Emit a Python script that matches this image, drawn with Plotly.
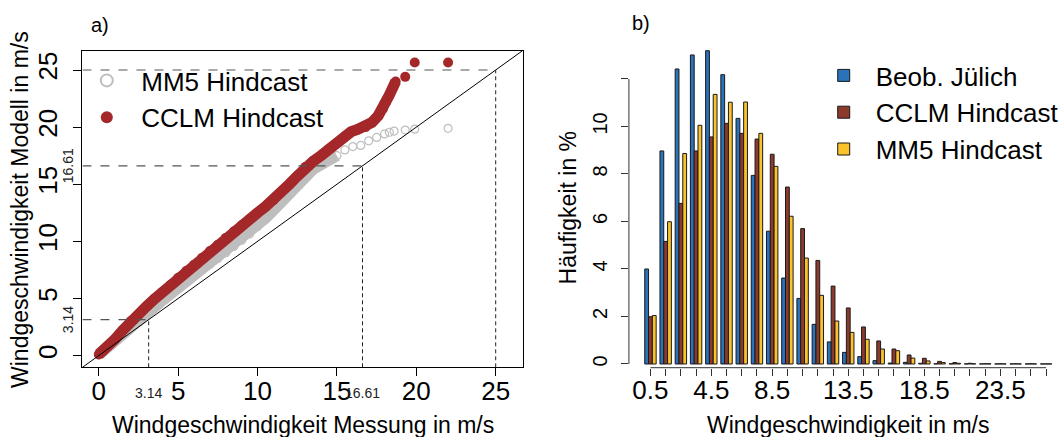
import plotly.graph_objects as go

# ---------------- data: panel a) quantile-quantile ----------------
# observed quantiles (x) and model quantiles (y), read from the picture
mm5_obs = [0.0, 0.5, 1.0, 1.5, 2.0, 2.5, 3.0, 3.5, 4.0, 4.5, 5.0, 5.5, 6.0, 6.5, 7.0, 7.5,
           8.0, 8.5, 9.0, 9.5, 10.0, 10.5, 11.0, 11.5, 12.0, 12.5, 13.0, 13.5, 14.0, 14.5,
           15.0, 15.5, 16.0, 16.5, 17.0, 17.5, 18.0, 18.3, 18.6, 19.3, 19.9, 22.0]
mm5_mod = [0.05, 0.6, 1.2, 1.8, 2.4, 3.0, 3.6, 4.2, 4.8, 5.35, 5.9, 6.45, 7.0, 7.5, 8.0, 8.5,
           9.0, 9.55, 10.1, 10.65, 11.3, 12.0, 12.7, 13.45, 14.25, 15.0, 15.7, 16.3, 16.7, 17.1,
           17.5, 18.0, 18.3, 18.4, 18.8, 19.1, 19.4, 19.55, 19.65, 19.74, 19.82, 19.89]
mm5_dense = 31  # number of leading points forming the solid band

cclm_obs = [0.0, 0.3, 0.6, 1.0, 1.5, 2.0, 2.5, 3.0, 3.5, 4.0, 4.5, 5.0, 5.5, 6.0, 6.5, 7.0,
            7.5, 8.0, 8.5, 9.0, 9.5, 10.0, 10.5, 11.0, 11.5, 12.0, 12.5, 13.0, 13.5, 14.0,
            14.5, 15.0, 15.5, 15.9, 16.3, 16.8, 17.2, 17.6, 17.9, 18.1, 18.3, 18.5, 18.7,
            19.3, 19.9, 22.0]
cclm_mod = [0.1, 0.45, 0.85, 1.4, 2.2, 3.0, 3.6, 4.3, 4.95, 5.55, 6.15, 6.8, 7.4, 7.95, 8.55,
            9.15, 9.7, 10.3, 10.85, 11.4, 11.95, 12.5, 13.05, 13.6, 14.3, 15.0, 15.7, 16.5,
            17.0, 17.5, 18.1, 18.6, 19.2, 19.6, 19.8, 20.0, 20.4, 21.0, 21.6, 22.2, 22.8,
            23.4, 24.0, 24.4, 25.66, 25.66]
cclm_dense = 43

marks = [3.14, 16.61, 25]          # dashed reference quantiles
mark_labels = ["3.14", "16.61"]
qq_ticks = [0, 5, 10, 15, 20, 25]
qq_lim = [-1.03, 26.69]

# ---------------- data: panel b) histogram ----------------
bins = [0.5, 1.5, 2.5, 3.5, 4.5, 5.5, 6.5, 7.5, 8.5, 9.5, 10.5, 11.5, 12.5, 13.5,
        14.5, 15.5, 16.5, 17.5, 18.5, 19.5, 20.5, 21.5, 22.5, 23.5, 24.5, 25.5, 26.5]
bin_labels = ["0.5", "4.5", "8.5", "13.5", "18.5", "23.5"]
beob = [4.00, 8.97, 12.42, 13.01, 13.19, 12.18, 10.34, 7.94, 5.59, 3.62, 2.76, 1.67, 0.93,
        0.49, 0.31, 0.14, 0.04, 0.07, 0.03, 0.01, 0.01, 0.005, 0.005, 0.005, 0.005, 0.005, 0.005]
cclm = [1.99, 5.16, 6.76, 8.97, 9.56, 10.13, 9.71, 9.47, 8.83, 7.45, 5.70, 4.36, 3.28,
        2.36, 1.56, 0.97, 0.63, 0.38, 0.24, 0.11, 0.06, 0.03, 0.01, 0.01, 0.01, 0.01, 0.005]
mm5 = [2.04, 5.99, 8.86, 10.05, 11.35, 11.02, 11.03, 9.71, 8.32, 6.22, 4.46, 2.89, 1.81,
       1.33, 1.04, 0.63, 0.56, 0.25, 0.13, 0.06, 0.03, 0.01, 0.01, 0.005, 0.005, 0.005, 0.005]
freq_ticks = [0, 2, 4, 6, 8, 10, 12]

FONT = "Liberation Sans, Arial, sans-serif"
GRAY = "#BEBEBE"
RED = "#A4282A"
W, H = 1064, 437

fig = go.Figure()

# ---- panel a ----
fig.add_trace(go.Scatter(x=mm5_obs[:mm5_dense], y=mm5_mod[:mm5_dense], mode="lines",
                         line=dict(color=GRAY, width=11), showlegend=False, hoverinfo="skip",
                         xaxis="x", yaxis="y"))
fig.add_trace(go.Scatter(x=mm5_obs, y=mm5_mod, mode="markers", name="MM5 Hindcast",
                         marker=dict(symbol="circle-open", size=8, color=GRAY,
                                     line=dict(width=1.2, color=GRAY)),
                         legend="legend", xaxis="x", yaxis="y"))
fig.add_trace(go.Scatter(x=cclm_obs[:cclm_dense], y=cclm_mod[:cclm_dense], mode="lines",
                         line=dict(color=RED, width=11), showlegend=False, hoverinfo="skip",
                         xaxis="x", yaxis="y"))
fig.add_trace(go.Scatter(x=cclm_obs, y=cclm_mod, mode="markers", name="CCLM Hindcast",
                         marker=dict(symbol="circle", size=10, color=RED),
                         legend="legend", xaxis="x", yaxis="y"))
# 1:1 line
fig.add_trace(go.Scatter(x=qq_lim, y=qq_lim, mode="lines", line=dict(color="black", width=1),
                         showlegend=False, hoverinfo="skip", xaxis="x", yaxis="y"))
# dashed quantile guides
for q in marks:
    fig.add_trace(go.Scatter(x=[qq_lim[0], q], y=[q, q], mode="lines",
                             line=dict(color="#555555", width=1.2, dash="dash"),
                             showlegend=False, hoverinfo="skip", xaxis="x", yaxis="y"))
    fig.add_trace(go.Scatter(x=[q, q], y=[qq_lim[0], q], mode="lines",
                             line=dict(color="#222222", width=1, dash="4px,3px"),
                             showlegend=False, hoverinfo="skip", xaxis="x", yaxis="y"))

# ---- panel b ----
for name, vals, col in [("Beob. Jülich", beob, "#2A72BA"),
                        ("CCLM Hindcast", cclm, "#8C3A2C"),
                        ("MM5 Hindcast", mm5, "#FBC32B")]:
    fig.add_trace(go.Bar(x=bins, y=vals, name=name, marker=dict(color=col,
                         line=dict(color="#1a1a1a", width=1)),
                         legend="legend2", xaxis="x2", yaxis="y2"))

def px_x(p):
    return p / W

def px_y(p):
    return (H - p) / H

axis_font = dict(family=FONT, size=26, color="black")

fig.update_layout(
    width=W, height=H,
    margin=dict(l=0, r=0, t=0, b=0),
    paper_bgcolor="white", plot_bgcolor="white",
    font=dict(family=FONT, color="black"),
    barmode="group", bargap=0.25, bargroupgap=0,
    xaxis=dict(domain=[px_x(82.7), px_x(524)], range=qq_lim, tickvals=qq_ticks,
               ticks="outside", ticklen=8, tickcolor="black", showline=True, mirror=True,
               linecolor="black", linewidth=1, showgrid=False, zeroline=False,
               tickfont=axis_font, ticklabelstandoff=-8, anchor="y"),
    yaxis=dict(domain=[px_y(367.3), px_y(50.7)], range=qq_lim, tickvals=qq_ticks,
               ticks="outside", ticklen=8, tickcolor="black", showline=True, mirror=True,
               linecolor="black", linewidth=1, showgrid=False, zeroline=False,
               tickfont=axis_font, tickangle=-90, ticklabelstandoff=6, anchor="x"),
    xaxis2=dict(domain=[px_x(630.7), px_x(1062)], range=[-0.915, 27.35], tickvals=bins,
                ticktext=[(f"{b:g}" if f"{b:g}" in bin_labels else "") for b in bins],
                ticks="outside", ticklen=7, tickcolor="#333333", showline=False,
                showgrid=False, zeroline=False, tickfont=dict(family=FONT, size=26),
                ticklabelstandoff=-8, anchor="y2"),
    yaxis2=dict(domain=[px_y(367.7), px_y(40)], range=[-0.156, 13.64], tickvals=freq_ticks,
                ticktext=[str(t) if t <= 10 else "" for t in freq_ticks],
                ticks="outside", ticklen=7, tickcolor="#333333", showline=False,
                showgrid=False, zeroline=False, tickangle=-90, ticklabelstandoff=6,
                tickfont=dict(family=FONT, size=20), anchor="x2"),
    legend=dict(x=px_x(72.5), y=px_y(57), xanchor="left", yanchor="top",
                font=dict(family=FONT, size=26), bgcolor="rgba(0,0,0,0)",
                itemsizing="constant", itemwidth=59, tracegroupgap=0),
    legend2=dict(x=px_x(814), y=px_y(52), xanchor="left", yanchor="top",
                 font=dict(family=FONT, size=26), bgcolor="rgba(0,0,0,0)",
                 itemwidth=54, tracegroupgap=0),
    shapes=[
        dict(type="line", xref="x2 domain", yref="y2", x0=0, x1=0, y0=0, y1=12,
             line=dict(color="#333333", width=1)),
        dict(type="line", xref="x2", yref="y2 domain", x0=bins[0], x1=bins[-1], y0=0, y1=0,
             line=dict(color="#333333", width=1)),
    ],
)

def note(text, x, y, size, angle=0):
    return dict(text=text, x=px_x(x), y=px_y(y), xref="paper", yref="paper",
                xanchor="center", yanchor="middle", showarrow=False, textangle=angle,
                font=dict(family=FONT, size=size, color="black"))

ann = [
    note("a)", 100, 25, 20),
    note("b)", 643, 23, 20),
    note("Windgeschwindigkeit Messung in m/s", 304, 425, 23),
    note("Windgeschwindigkeit Modell in m/s", 20, 209, 23, -90),
    note("Windgeschwindigkeit in m/s", 851, 425, 23),
    note("Häufigkeit in %", 570, 208, 23, -90),
]
for q, lab in zip(marks, mark_labels):
    ann.append(dict(text=lab, x=q, y=0, xref="x", yref="y domain", xanchor="center",
                    yanchor="middle", yshift=-26, showarrow=False,
                    font=dict(family=FONT, size=14, color="#222222")))
    ann.append(dict(text=lab, x=0, y=q, xref="x domain", yref="y", xanchor="center",
                    yanchor="middle", xshift=-15, textangle=-90, showarrow=False,
                    font=dict(family=FONT, size=14, color="#222222")))
fig.update_layout(annotations=ann)

fig.write_html("out.html", config={"displayModeBar": False},
               post_script="document.body.style.margin='0px';")
